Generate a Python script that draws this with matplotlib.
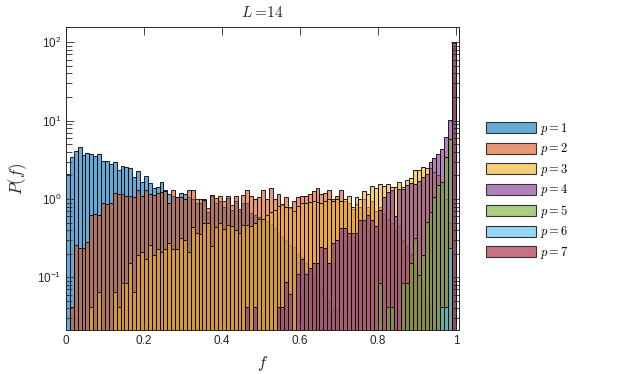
import numpy as np
import matplotlib
matplotlib.use('Agg')
import matplotlib.pyplot as plt
from matplotlib.patches import Patch
from matplotlib.colors import to_rgba
from matplotlib.ticker import LogLocator, NullFormatter, FixedLocator

plt.rcParams['mathtext.fontset'] = 'cm'
plt.rcParams['font.family'] = ['Liberation Sans', 'DejaVu Sans']

# ---- data: P(f) per bin (bin width 0.01, bins 0..99) ----
bin_edges = np.round(np.arange(0, 1.0001, 0.01), 2)
series_labels = [r'$p = 1$', r'$p = 2$', r'$p = 3$', r'$p = 4$', r'$p = 5$', r'$p = 6$', r'$p = 7$']

p1 = [2.1, 3.4, 4.1, 4.6, 3.6, 3.9, 3.75, 3.55, 3.7, 3.05,
      3.05, 2.8, 3.0, 2.35, 2.6, 2.55, 2.5, 1.9, 2.3, 1.66,
      1.97, 1.62, 1.37, 1.41, 1.65, 1.30, 1.16, 1.1, 1.07, 1.18,
      1.16, 1.05, 1.0, 0.88, 0.88, 1.01, 0.69, 1.09, 0.88, 0.93,
      0.80, 1.02, 0.72, 0.93, 0.70, 0.88, 0.88, 0.66, 0.62, 0.59,
      0.55, 0.52, 0.48, 0.42, 0.38, 0.33, 0.3, 0.26, 0.24, 0.2,
      0.18, 0.15, 0.12, 0.1, 0.09, 0.07, 0.06, 0.05, 0.04, 0.04,
      0, 0, 0, 0, 0, 0, 0, 0, 0, 0,
      0, 0, 0, 0, 0, 0, 0, 0, 0, 0,
      0, 0, 0, 0, 0, 0, 0, 0, 0, 0]

p2 = [0, 0.042, 0.256, 0.235, 0.235, 0.28, 0.62, 0.64, 0.63, 0.88,
      0.87, 0.9, 1.2, 1.17, 1.17, 1.1, 1.10, 1.07, 1.30, 1.10,
      1.30, 1.15, 1.13, 1.2, 1.23, 1.27, 0.88, 1.32, 1.07, 1.07,
      1.0, 1.30, 1.30, 1.0, 1.01, 0.98, 0.76, 1.12, 1.02, 1.09,
      0.94, 1.09, 0.84, 1.09, 0.75, 1.12, 1.30, 1.09, 1.0, 1.05,
      1.32, 1.0, 1.37, 1.0, 1.16, 0.84, 1.07, 0.76, 0.93, 1.07,
      1.09, 1.09, 1.16, 1.27, 1.37, 1.16, 1.19, 1.30, 0.99, 1.09,
      1.30, 0.95, 0.9, 0.75, 0.85, 0.8, 1.0, 0.8, 0.95, 0.7,
      0.8, 0.65, 0.55, 0.5, 0.4, 0.45, 0.3, 0.25, 0.2, 0.15,
      0.1, 0.08, 0.05, 0.04, 0, 0, 0, 0, 0, 0]

p3 = [0, 0, 0, 0, 0, 0, 0.042, 0, 0.064, 0,
      0, 0, 0.064, 0.042, 0.085, 0.085, 0.151, 0.064, 0.193, 0.21,
      0.17, 0.256, 0.193, 0.23, 0.21, 0.23, 0.277, 0.23, 0.23, 0.32,
      0.30, 0.21, 0.44, 0.37, 0.36, 0.49, 0.49, 0.25, 0.44, 0.49,
      0.41, 0.47, 0.45, 0.40, 0.37, 0.47, 0.47, 0.45, 0.49, 0.55,
      0.55, 0.62, 0.68, 0.72, 0.82, 0.85, 0.78, 0.8, 0.7, 0.82,
      0.88, 0.9, 0.92, 0.95, 0.92, 0.9, 0.95, 1.0, 0.95, 1.0,
      0.95, 0.99, 1.09, 0.79, 1.05, 0.99, 1.27, 1.16, 1.46, 1.37,
      1.56, 1.48, 1.55, 1.44, 1.44, 1.66, 1.44, 1.75, 1.84, 2.35,
      2.35, 2.59, 2.46, 2.5, 2.2, 2.0, 1.5, 1.0, 0.5, 0.3]

p4 = [0, 0, 0, 0, 0, 0, 0, 0, 0, 0,
      0, 0, 0, 0, 0, 0, 0, 0, 0, 0,
      0, 0, 0, 0, 0, 0, 0, 0, 0, 0,
      0, 0, 0, 0, 0, 0, 0, 0, 0, 0,
      0, 0, 0, 0, 0, 0, 0.042, 0, 0.042, 0,
      0, 0, 0, 0, 0.042, 0.042, 0.086, 0.061, 0, 0.11,
      0.17, 0.11, 0.13, 0.15, 0.15, 0.24, 0.235, 0.15, 0.277, 0.30,
      0.42, 0.42, 0.37, 0.37, 0.37, 0.54, 0.54, 0.63, 0.54, 0.45,
      0.73, 1.07, 1.24, 1.3, 0.6, 1.33, 1.33, 1.49, 1.6, 1.55,
      1.7, 1.9, 2.1, 2.99, 3.31, 3.76, 4.31, 6.25, 10.2, 35.0]

p5 = [0] * 80 + [0.085, 0, 0.042, 0.042, 0, 0, 0.085, 0.085, 0.15, 0.32,
                 0.107, 0.19, 0.51, 0.69, 1.07, 1.51, 1.66, 3.47, 5.8, 84.0]

p6 = [0] * 96 + [0.042, 0.042, 0.235, 99.0]

p7 = [0] * 99 + [100.0]

series = [p1, p2, p3, p4, p5, p6, p7]
colors = ['#0072BD', '#D95319', '#EDB120', '#7E2F8E', '#77AC30', '#4DBEEE', '#A2142F']

W, H = 623, 374
fig = plt.figure(figsize=(W / 100, H / 100), dpi=100)
ax = fig.add_axes([66 / W, 1 - 330 / H, (459 - 66) / W, (330 - 27) / H])
ax.set_yscale('log')

base = 1e-3
lefts = bin_edges[:-1]
for vals, c in zip(series, colors):
    v = np.asarray(vals, dtype=float)
    m = v > 0
    ax.bar(lefts[m], v[m] - base, bottom=base, width=0.01, align='edge',
           facecolor=to_rgba(c, 0.6), edgecolor='black', linewidth=0.6)

ax.set_xlim(0, 1.008)
ax.set_ylim(0.0212, 157)

axc = '#262626'
ax.set_xticks([0, 0.2, 0.4, 0.6, 0.8, 1.0])
ax.set_xticklabels(['0', '0.2', '0.4', '0.6', '0.8', '1'])
ax.yaxis.set_major_locator(FixedLocator([0.1, 1, 10, 100]))
ax.yaxis.set_minor_locator(LogLocator(base=10, subs=np.arange(2, 10), numticks=20))
ax.yaxis.set_minor_formatter(NullFormatter())
ax.tick_params(which='both', direction='in', top=True, right=True, colors=axc,
               labelsize=8.5, width=0.6)
ax.tick_params(which='major', length=6)
ax.tick_params(which='minor', length=4)
ax.tick_params(axis='x', which='minor', bottom=False, top=False)
for s in ax.spines.values():
    s.set_color(axc)
    s.set_linewidth(0.7)

ax.set_title(r'$L=\!14$', fontsize=11, pad=7, color=axc)
ax.set_ylabel(r'$P(f)$', fontsize=12, color=axc, labelpad=6)
ax.set_xlabel(r'$f$', fontsize=12, color=axc, labelpad=5)

handles = [Patch(facecolor=to_rgba(c, 0.6), edgecolor='#333333', linewidth=0.8) for c in colors]
fig.legend(handles, series_labels, loc='upper left',
           bbox_to_anchor=(486 / W, 1 - 121 / H), frameon=False,
           fontsize=9, handlelength=4.0, handleheight=0.96,
           labelspacing=0.36, handletextpad=0.3, borderpad=0, borderaxespad=0)

fig.savefig('out.png', dpi=100)
